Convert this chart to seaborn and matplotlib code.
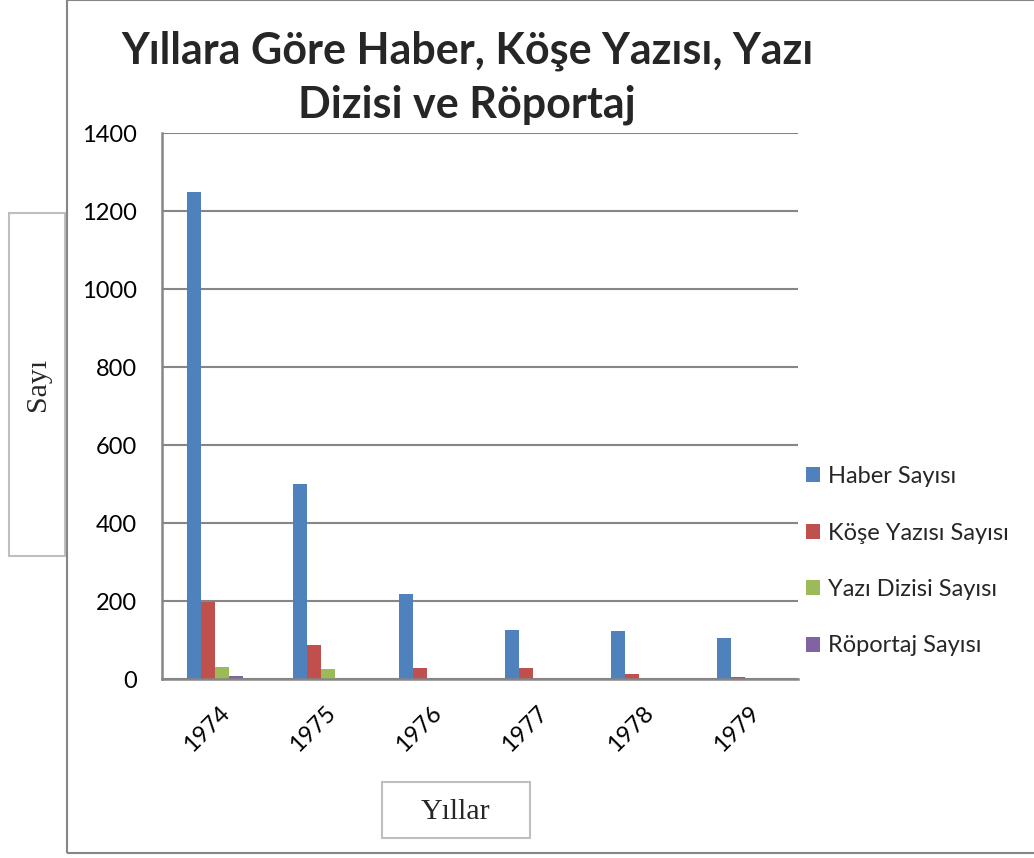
import pandas as pd
import matplotlib.pyplot as plt
import matplotlib.patches as patches
import matplotlib.transforms as mtransforms
import seaborn as sns

years = ["1974", "1975", "1976", "1977", "1978", "1979"]
series = ["Haber Sayısı", "Köşe Yazısı Sayısı", "Yazı Dizisi Sayısı", "Röportaj Sayısı"]
haber = [1250, 500, 217, 126, 122, 105]
kose = [198, 87, 28, 27, 12, 6]
dizi = [30, 26, 0, 0, 0, 0]
roportaj = [7, 0, 0, 0, 0, 0]
colors = ["#4F81BD", "#C0504D", "#9BBB59", "#8064A2"]

sns.set_theme(style="white")
plt.rcParams["font.family"] = ["Lato", "DejaVu Sans"]

rows = []
for name, vals in zip(series, [haber, kose, dizi, roportaj]):
    for y, v in zip(years, vals):
        rows.append({"Yil": y, "Sayi": v, "Tur": name})
df = pd.DataFrame(rows)

fig = plt.figure(figsize=(10.34, 8.58), dpi=100)
W, H = 1034, 858
ax = fig.add_axes([162 / W, 1 - 679 / H, (798 - 162) / W, (679 - 133) / H])

sns.barplot(data=df, x="Yil", y="Sayi", hue="Tur", palette=colors,
            width=0.52, ax=ax, saturation=1, linewidth=0)

grid = "#868686"
ax.set_ylim(0, 1400)
ax.set_yticks(range(0, 1401, 200))
ax.yaxis.grid(True, color=grid, linewidth=1.5)
ax.set_axisbelow(True)
for s in ["top", "right"]:
    ax.spines[s].set_visible(False)
for s in ["left", "bottom"]:
    ax.spines[s].set_color(grid)
    ax.spines[s].set_linewidth(1.8)
ax.set_xlabel("")
ax.set_ylabel("")
ax.tick_params(axis="y", labelsize=17, pad=18, length=0, labelcolor="black")
ax.tick_params(axis="x", labelsize=17, pad=14, length=0, labelcolor="black")
ax.set_xlim(-0.5, 5.5)
shift = mtransforms.ScaledTranslation(-8 / 100, -4 / 100, fig.dpi_scale_trans)
for lab in ax.get_xticklabels():
    lab.set_rotation(45)
    lab.set_ha("center")
    lab.set_transform(lab.get_transform() + shift)

# legend
handles, labels = ax.get_legend_handles_labels()
ax.legend(handles, labels, loc="upper left", bbox_to_anchor=(785 / W, 1 - 445 / H),
          bbox_transform=fig.transFigure, frameon=False, fontsize=17,
          handlelength=0.6, handleheight=0.6, handletextpad=0.3, labelspacing=1.5)

# title
fig.text(467 / W, 1 - 78 / H, "Yıllara Göre Haber, Köşe Yazısı, Yazı\nDizisi ve Röportaj",
         ha="center", va="center", fontsize=31, fontweight="bold", linespacing=1.4)

# axis title boxes
fig.patches.append(patches.Rectangle((9 / W, 1 - 556 / H), 56 / W, 343 / H,
                                     transform=fig.transFigure, fill=False,
                                     edgecolor="#bfbfbf", linewidth=1.5))
fig.text(38 / W, 1 - 384 / H, "Sayı", rotation=90, ha="center", va="center",
         fontsize=21.5, family="Liberation Serif")
fig.patches.append(patches.Rectangle((382 / W, 1 - 838 / H), 148 / W, 56 / H,
                                     transform=fig.transFigure, fill=False,
                                     edgecolor="#bfbfbf", linewidth=1.5))
fig.text(456 / W, 1 - 812 / H, "Yıllar", ha="center", va="center",
         fontsize=21.5, family="Liberation Serif")

# outer chart border
fig.patches.append(patches.Rectangle((67 / W, 1 - 853 / H), 1100 / W, 853 / H,
                                     transform=fig.transFigure, fill=False,
                                     edgecolor=grid, linewidth=1.5))

fig.savefig("out.png", dpi=100)
